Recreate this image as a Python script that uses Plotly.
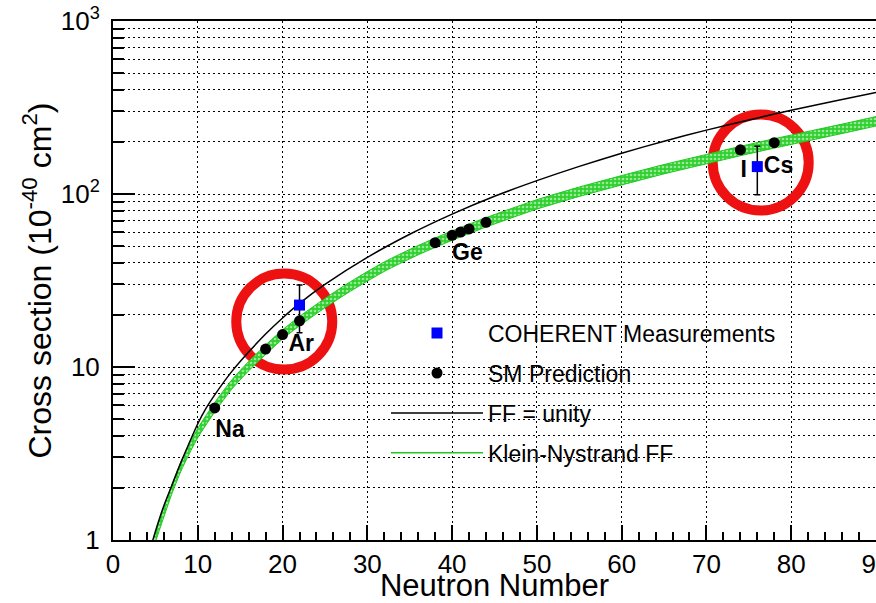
import plotly.graph_objects as go

# ---------------- data ----------------
# FF = unity curve
unity_N = [4.6, 5, 6, 7, 8, 9, 10, 11, 12, 14, 16, 18, 20, 22, 25, 30, 35, 40, 45,
           50, 55, 60, 65, 70, 75, 80, 85, 90]
unity_xs = [0.96, 1.12, 1.58, 2.1, 2.8, 3.65, 4.7, 5.8, 6.9, 9.4, 12.2, 15.5, 19.2, 23.3,
            30.0, 43.0, 58.5, 76.5, 97.0, 119.5, 144.5, 172.0, 202.0, 234.0, 268.0,
            305.0, 344.0, 386.0]

# Klein-Nystrand FF band
kn_N = [4.85, 5, 6, 7, 8, 9, 10, 12, 14, 16, 18, 20, 22, 25, 28, 32, 36, 40, 44,
        50, 55, 60, 65, 70, 74, 78, 82, 86, 90]
kn_low = [0.91, 0.97, 1.36, 1.88, 2.49, 3.15, 3.9, 5.5, 7.43, 9.5, 11.8, 14.5, 17.3,
          22.0, 27.4, 35.7, 44.5, 54.0, 64.4, 81.8, 96.8, 112.8, 130.7, 149.5, 166.4,
          184.2, 203.0, 223.7, 247.2]
kn_high = [1.03, 1.10, 1.54, 2.13, 2.82, 3.57, 4.42, 6.23, 8.41, 10.76, 13.4, 16.4,
           19.6, 24.9, 31.1, 40.5, 50.4, 61.2, 73.0, 92.7, 109.7, 127.8, 148.0, 169.3,
           188.5, 208.7, 230.0, 253.5, 280.1]

# SM prediction points
sm_N = [12, 18, 20, 22, 38, 40, 41, 42, 44, 74, 78]
sm_xs = [5.8, 12.7, 15.4, 18.5, 52.3, 57.7, 60.3, 62.8, 68.6, 180, 198]

# COHERENT measurements
coh_N = [22, 76]
coh_xs = [22.8, 144]
coh_err = [7.0, 45]

# element labels
lab_text = ["Na", "Ar", "Ge", "I", "Cs"]
lab_N = [13.8, 22.2, 41.8, 74.4, 78.5]
lab_xs = [4.23, 13.4, 45.0, 134.6, 142.7]

# highlighted regions (red rings)
ring_N = [20.2, 76.4]
ring_xs = [18.3, 152]

# axis ticks
y_tickvals = [1, 10, 100, 1000]
y_ticktext = ["1", "10", "10<sup>2</sup>", "10<sup>3</sup>"]
y_minor = [m * d for d in (1, 10, 100) for m in range(2, 10)]

FONT = "Liberation Sans, Arial, Helvetica, sans-serif"
GREEN = "#1fc81f"

fig = go.Figure()

# red rings (drawn first, underneath)
fig.add_trace(go.Scatter(
    x=ring_N, y=ring_xs, mode="markers", showlegend=False, hoverinfo="skip",
    marker=dict(symbol="circle-open", size=96, color="#ee1111",
                line=dict(width=10, color="#ee1111"))))

# KN band
fig.add_trace(go.Scatter(
    x=kn_N, y=kn_low, mode="lines", showlegend=False, hoverinfo="skip",
    line=dict(color=GREEN, width=1, shape="spline", smoothing=0.6)))
fig.add_trace(go.Scatter(
    x=kn_N, y=kn_high, mode="lines", showlegend=False, hoverinfo="skip",
    fill="tonexty", fillcolor="#38d838",
    fillpattern=dict(shape=".", fgcolor="white", bgcolor="#30d030", size=4, solidity=0.35),
    line=dict(color=GREEN, width=1, shape="spline", smoothing=0.6)))

# FF = unity
fig.add_trace(go.Scatter(
    x=unity_N, y=unity_xs, mode="lines", name="FF = unity", legendrank=3, legendgroup="c",
    line=dict(color="black", width=1.5, shape="spline", smoothing=0.6)))

# legend-only entry for KN
fig.add_trace(go.Scatter(
    x=[None], y=[None], mode="lines", name="Klein-Nystrand FF", legendrank=4, legendgroup="d",
    line=dict(color=GREEN, width=1.5)))

# SM prediction
fig.add_trace(go.Scatter(
    x=sm_N, y=sm_xs, mode="markers", name="SM Prediction", legendrank=2, legendgroup="b",
    marker=dict(symbol="circle", size=11, color="black")))

# COHERENT
fig.add_trace(go.Scatter(
    x=coh_N, y=coh_xs, mode="markers", name="COHERENT Measurements", legendrank=1,
    legendgroup="a",
    marker=dict(symbol="square", size=11, color="#0000ff"),
    error_y=dict(type="data", array=coh_err, color="black", thickness=1.5, width=3)))

# element labels
fig.add_trace(go.Scatter(
    x=lab_N, y=lab_xs, mode="text", text=lab_text, showlegend=False, hoverinfo="skip",
    textposition="middle center",
    textfont=dict(family=FONT, size=23, color="black", weight="bold")))

fig.update_layout(
    width=876, height=603,
    margin=dict(l=113, r=0, t=21, b=63, autoexpand=False),
    paper_bgcolor="white", plot_bgcolor="white",
    font=dict(family=FONT, color="black"),
    showlegend=True,
    legend=dict(x=0.3578, y=0.44, xanchor="left", yanchor="top",
                bgcolor="rgba(0,0,0,0)", borderwidth=0, traceorder="grouped",
                font=dict(family=FONT, size=23, color="black"),
                itemwidth=92, tracegroupgap=7),
    xaxis=dict(
        range=[0, 90], tickmode="linear", tick0=0, dtick=10,
        ticks="inside", ticklen=15, tickwidth=1.5, tickcolor="black",
        showline=True, linewidth=2, linecolor="black", mirror=True,
        showgrid=True, gridcolor="black", gridwidth=1, griddash="2px,3px",
        zeroline=False, ticklabeloverflow="allow",
        tickfont=dict(family=FONT, size=26),
        minor=dict(dtick=2, tick0=0, ticks="inside", ticklen=8, tickwidth=1.5,
                   tickcolor="black", showgrid=False),
        title=dict(text="Neutron Number", font=dict(family=FONT, size=31), standoff=16),
    ),
    yaxis=dict(
        type="log", range=[0, 3], tickmode="array", tickvals=y_tickvals, ticktext=y_ticktext,
        ticks="inside", ticklen=22, tickwidth=1.5, tickcolor="black",
        showline=True, linewidth=2, linecolor="black", mirror=False,
        showgrid=True, gridcolor="black", gridwidth=1, griddash="2px,3px",
        zeroline=False, ticklabelstandoff=6,
        tickfont=dict(family=FONT, size=26),
        minor=dict(tickmode="array", tickvals=y_minor, ticks="inside", ticklen=11,
                   tickwidth=1.5, tickcolor="black", showgrid=True, gridcolor="black",
                   gridwidth=1, griddash="2px,3px"),
        title=dict(text="Cross section (10<sup>-40</sup> cm<sup>2</sup>)",
                   font=dict(family=FONT, size=32), standoff=0),
    ),
)

fig.write_html("out.html")
